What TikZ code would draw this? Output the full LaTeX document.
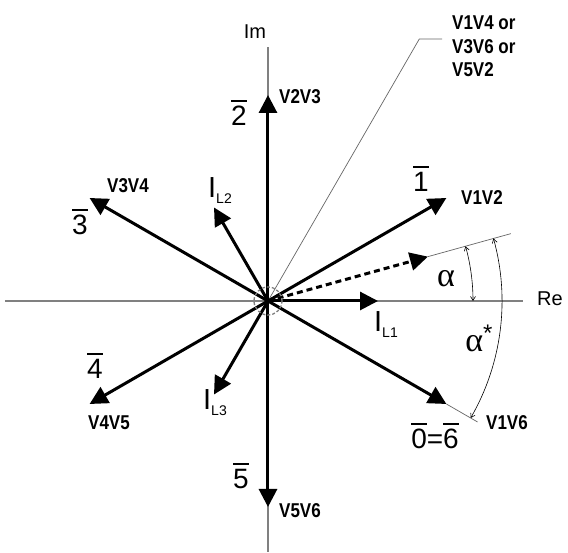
\documentclass[tikz,border=0pt]{standalone}
\usepackage{fontspec}
\setmainfont{Liberation Sans}
\newfontfamily\grfont{Liberation Serif}
\usetikzlibrary{arrows.meta}
\newcommand\ovl[1]{\vbox{\hrule height 1.8pt\kern 4pt\hbox{#1}}}
\newcommand\cond[1]{\scalebox{0.85}[1]{#1}}
\newcommand\cur[1]{I\raisebox{-6pt}{\fontsize{14}{14}\selectfont #1}}
\tikzset{
  axis/.style={draw=gray, line width=1.2pt},
  thinline/.style={draw=gray!80!black, line width=0.7pt},
  vec/.style={line width=3pt, -{Triangle[length=18pt,width=18pt]}},
  dvec/.style={line width=3pt, dash pattern=on 6pt off 4pt, -{Triangle[length=18pt,width=18pt]}},
  arcarrow/.style={line width=0.6pt, {Straight Barb[length=4pt,width=5pt]}-{Straight Barb[length=4pt,width=5pt]}},
  vlab/.style={font=\fontsize{20}{23.5}\selectfont\bfseries, inner sep=0pt},
  numlab/.style={font=\fontsize{28}{28}\selectfont, inner sep=0pt},
  axlab/.style={font=\fontsize{20}{20}\selectfont, inner sep=0pt},
  curlab/.style={font=\fontsize{29}{29}\selectfont, inner sep=0pt},
  grlab/.style={font=\fontsize{34}{34}\selectfont\grfont, inner sep=0pt},
  ringstyle/.style={draw=gray, line width=1.3pt, dash pattern=on 3pt off 2pt}
}
\begin{document}
\begin{tikzpicture}[x=1pt,y=1pt]
\useasboundingbox (-268,-252) rectangle (300,301);
\fill[white] (-268,-252) rectangle (300,301);
\coordinate (O) at (0,0);
% axes
\coordinate (reL) at (-263,0);
\coordinate (reR) at (255,0);
\coordinate (imT) at (0,254);
\coordinate (imB) at (0,-251);
\draw[axis] (reL) -- (reR);
\draw[axis] (O) -- (imT);
\draw[axis] (O) -- (imB);
\node[axlab] (Re) at (282,2) {Re};
\node[axlab] (Im) at (-13,269) {Im};
% leader line
\coordinate (ld1) at (151.3,262);
\coordinate (ld2) at (174,262);
\draw[thinline] (O) -- (ld1) -- (ld2);
\node[vlab, anchor=north west, align=left] (lead) at (184,285) {\cond{V1V4 or}\\\cond{V3V6 or}\\\cond{V5V2}};
% extension lines
\coordinate (dt) at (15.5:166);
\coordinate (dext) at (15.5:252);
\coordinate (v6) at (330:206);
\coordinate (v6ext) at (330:242);
\draw[thinline] (dt) -- (dext);
\draw[thinline] (v6) -- (v6ext);
% arcs
\coordinate (a1) at (15.5:205);
\coordinate (a2) at (15.5:234);
\draw[arcarrow] (a1) arc[start angle=15.5, end angle=0, radius=205];
\draw[arcarrow] (a2) arc[start angle=15.5, end angle=-30, radius=234];
\node[grlab] (alpha) at (178,22) {α};
\node[grlab] (alphas) at (211,-37) {α\raisebox{10pt}{\fontsize{24}{24}\selectfont\rmfamily*}};
% vectors
\coordinate (v1) at (30:206);
\coordinate (v2) at (90:206);
\coordinate (v3) at (150:206);
\coordinate (v4) at (210:206);
\coordinate (v5) at (270:206);
\draw[vec] (O) -- (v1);
\draw[vec] (O) -- (v2);
\draw[vec] (O) -- (v3);
\draw[vec] (O) -- (v4);
\draw[vec] (O) -- (v5);
\draw[vec] (O) -- (v6);
\draw[dvec] (O) -- (dt);
% currents
\coordinate (i1) at (0:110);
\coordinate (i2) at (120:108);
\coordinate (i3) at (240:108);
\draw[vec] (O) -- (i1);
\draw[vec] (O) -- (i2);
\draw[vec] (O) -- (i3);
% center circle
\draw[ringstyle] (O) circle[radius=14pt];
\node[curlab] (IL1) at (118,-24) {\cur{L1}};
\node[curlab] (IL2) at (-48,110) {\cur{L2}};
\node[curlab] (IL3) at (-53,-102) {\cur{L3}};
% vector labels
\node[vlab] (l1) at (214,103) {\cond{V1V2}};
\node[vlab] (l2) at (32,204) {\cond{V2V3}};
\node[vlab] (l3) at (-140,115) {\cond{V3V4}};
\node[vlab] (l4) at (-159,-122) {\cond{V4V5}};
\node[vlab] (l5) at (32,-210) {\cond{V5V6}};
\node[vlab] (l6) at (239,-122) {\cond{V1V6}};
\node[numlab] (n1) at (153,122) {\ovl{1}};
\node[numlab] (n2) at (-29,188) {\ovl{2}};
\node[numlab] (n3) at (-188,79) {\ovl{3}};
\node[numlab] (n4) at (-173,-65) {\ovl{4}};
\node[numlab] (n5) at (-27,-175) {\ovl{5}};
\node[numlab] (n6) at (167,-135) {\ovl{0}=\ovl{6}};
\end{tikzpicture}
\end{document}
